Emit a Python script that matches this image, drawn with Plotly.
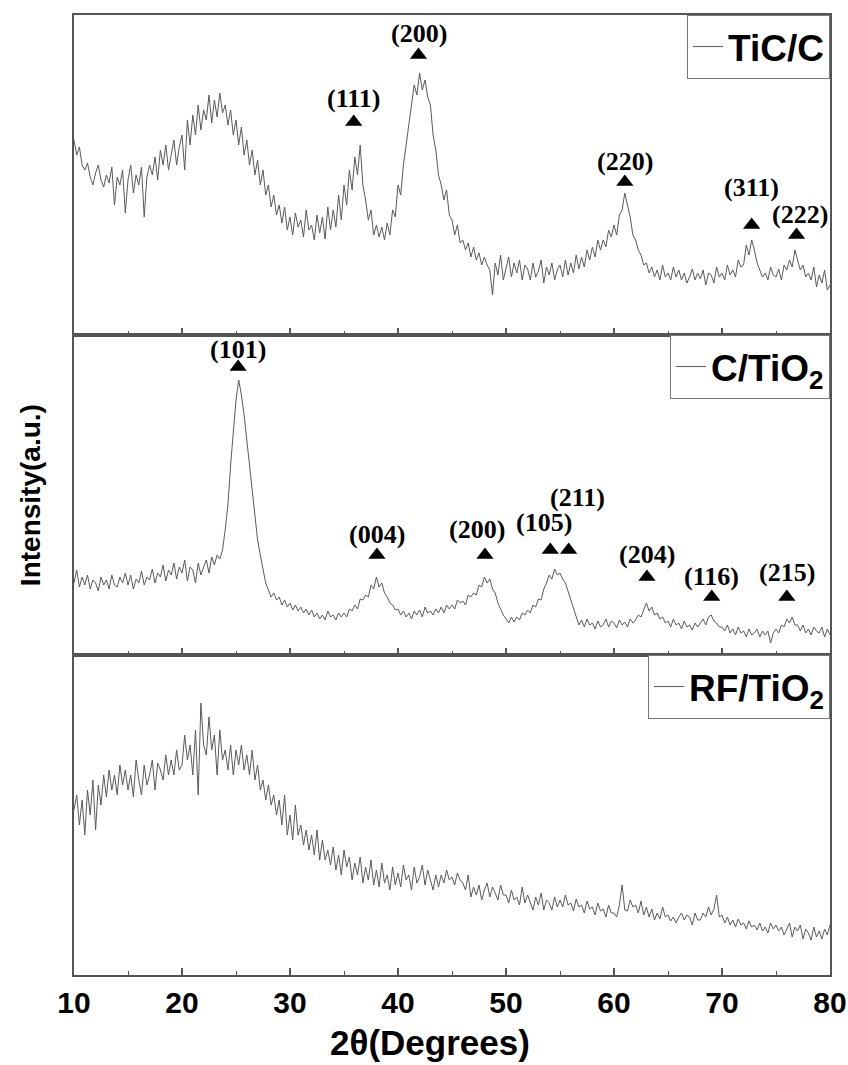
import plotly.graph_objects as go
from plotly.subplots import make_subplots

# 2-theta sampling grid (degrees), 0.25 deg step from 10 to 80
two_theta = [round(10 + 0.25 * i, 2) for i in range(281)]

# Intensities (a.u.)
tic_c = [
    195, 180, 188, 170,  165, 172, 158, 150,  162, 170, 155, 148,  160, 152, 168, 130,
    158, 150, 165, 122,  155, 170, 142, 160,  150, 168, 118, 158,  170, 160, 178, 155,
    185, 170, 190, 165,  180, 195, 170, 188,  200, 165, 215, 190,  220, 200, 230, 205,
    225, 215, 240, 212,  235, 218, 242, 222,  230, 210, 225, 200,  215, 190, 208, 180,
    195, 170, 185, 160,  175, 150, 165, 140,  150, 128, 140, 120,  130, 112, 128, 105,
    118, 100, 122, 108,  115, 98, 125, 105,  110, 95, 120, 102,  118, 96, 128, 105,
    125, 108, 140, 115,  150, 130, 165, 145,  178, 160, 190, 150,  135, 115, 125, 100,
    110, 98, 108, 95,  112, 100, 125, 118,  150, 140, 170, 190,  210, 225, 250, 240,
    262, 245, 255, 238,  230, 200, 185, 160,  150, 135, 145, 120,  115, 100, 110, 92,
    95, 85, 92, 78,  88, 75, 82, 70,  78, 70, 65, 40,  72, 60, 80, 55,
    68, 78, 58, 72,  62, 75, 55, 70,  66, 55, 72, 58,  64, 75, 52, 68,
    60, 72, 55, 65,  70, 58, 75, 60,  72, 62, 80, 66,  78, 68, 85, 75,
    88, 78, 95, 85,  95, 88, 105, 98,  110, 100, 120, 125,  142, 130, 118, 100,
    95, 85, 80, 70,  72, 62, 68, 58,  65, 55, 70, 58,  62, 55, 68, 58,
    65, 55, 62, 52,  58, 66, 55, 62,  56, 65, 50, 62,  60, 52, 68, 58,
    62, 55, 70, 60,  65, 58, 75, 68,  70, 90, 80, 95,  85, 72, 65, 58,
    62, 55, 68, 60,  58, 66, 55, 70,  65, 75, 68, 85,  75, 65, 70, 58,
    62, 55, 68, 48,  60, 52, 65, 45,  50,
]

c_tio2 = [
    72, 85, 68, 78,  70, 80, 66, 75,  72, 64, 78, 70,  75, 66, 80, 70,
    68, 78, 72, 82,  70, 80, 66, 76,  72, 84, 70, 78,  75, 86, 72, 82,
    78, 90, 74, 85,  80, 92, 76, 88,  82, 95, 74, 88,  85, 72, 92, 80,
    88, 95, 82, 98,  90, 100, 96, 105,  125, 150, 190, 225,  255, 275, 260, 240,
    215, 195, 165, 140,  115, 100, 85, 72,  65, 58, 62, 55,  58, 50, 55, 48,
    52, 45, 50, 44,  48, 42, 46, 40,  45, 38, 42, 36,  40, 35, 44, 38,
    40, 35, 42, 38,  42, 38, 46, 44,  50, 46, 56, 55,  60, 58, 70, 66,
    78, 68, 72, 62,  58, 52, 50, 45,  46, 40, 44, 38,  42, 36, 44, 40,
    45, 38, 48, 42,  44, 40, 46, 42,  48, 42, 50, 46,  50, 46, 55, 52,
    54, 50, 60, 58,  62, 60, 70, 68,  78, 72, 76, 66,  62, 52, 46, 40,
    36, 32, 38, 33,  38, 35, 42, 40,  45, 42, 50, 48,  56, 55, 66, 72,
    80, 76, 86, 80,  82, 76, 72, 64,  55, 46, 38, 30,  35, 28, 36, 30,
    32, 26, 34, 28,  30, 36, 28, 34,  32, 27, 35, 30,  33, 28, 36, 32,
    35, 40, 38, 45,  52, 44, 48, 40,  42, 36, 38, 32,  34, 28, 36, 30,
    32, 26, 34, 28,  30, 25, 32, 28,  32, 36, 30, 38,  40, 34, 32, 28,
    28, 24, 30, 22,  26, 20, 28, 22,  24, 18, 26, 20,  22, 26, 18, 24,
    20, 24, 12, 22,  26, 22, 30, 28,  36, 32, 38, 30,  30, 24, 30, 22,
    26, 20, 28, 24,  22, 28, 18, 26,  20,
]

rf_tio2 = [
    165, 180, 150, 175,  140, 185, 160, 195,  145, 190, 170, 200,  178, 205, 185, 200,
    180, 210, 190, 205,  185, 200, 178, 215,  195, 180, 210, 190,  200, 215, 185, 212,
    205, 195, 220, 200,  215, 200, 225, 205,  210, 240, 215, 230,  200, 245, 180, 272,
    230, 220, 258, 225,  240, 200, 245, 215,  225, 205, 230, 200,  225, 210, 230, 205,
    220, 200, 225, 195,  210, 185, 195, 175,  190, 170, 180, 160,  175, 150, 180, 140,
    160, 135, 170, 140,  150, 130, 145, 125,  140, 120, 145, 115,  135, 115, 125, 110,
    128, 105, 120, 100,  125, 108, 118, 95,  112, 100, 118, 92,  108, 95, 115, 90,
    105, 88, 112, 92,  100, 85, 108, 90,  102, 88, 110, 95,  100, 85, 108, 92,
    98, 110, 90, 105,  95, 85, 100, 88,  100, 92, 105, 95,  98, 90, 102, 95,
    92, 85, 100, 78,  88, 80, 90, 75,  85, 92, 78, 88,  82, 75, 90, 80,
    80, 72, 85, 75,  78, 70, 88, 72,  80, 72, 65, 78,  70, 82, 65, 75,
    72, 65, 78, 68,  75, 68, 80, 70,  72, 64, 76, 68,  70, 62, 74, 66,
    68, 60, 72, 64,  66, 58, 70, 62,  62, 58, 70, 90,  65, 64, 75, 68,
    70, 62, 74, 60,  68, 58, 66, 55,  62, 56, 68, 58,  60, 54, 58, 52,
    58, 62, 55, 60,  58, 50, 62, 55,  55, 62, 58, 68,  60, 66, 80, 58,
    60, 52, 58, 50,  55, 48, 56, 50,  52, 46, 54, 48,  50, 45, 52, 44,
    48, 42, 52, 46,  50, 44, 48, 40,  46, 52, 38, 48,  44, 50, 36, 46,
    42, 35, 48, 38,  44, 36, 46, 40,  50,
]

series_names = ["TiC/C", "C/TiO<sub>2</sub>", "RF/TiO<sub>2</sub>"]

# Reflection markers (hkl) per pattern
tic_peak_pos = [35.9, 41.9, 61.0, 72.75, 76.9]
tic_peak_int = [213, 280, 153, 110, 100]
tic_peak_hkl = ["(111)", "(200)", "(220)", "(311)", "(222)"]

ctio2_peak_pos = [25.2, 38.05, 48.05, 54.1, 55.8, 63.05, 69.05, 76.0]
ctio2_peak_int = [288, 100, 100, 105, 105, 78, 58, 58]
ctio2_peak_hkl = ["(101)", "(004)", "(200)", "(105)", "(211)", "(204)", "(116)", "(215)"]

x_ticks = [10, 20, 30, 40, 50, 60, 70, 80]

# label offsets (px) relative to each triangle -- styling only
tic_label_shift = [(0, 24), (0, 22), (0, 21), (0, 38), (3, 21)]
ctio2_label_shift = [(0, 18), (0, 21), (-8, 26), (-6, 28), (9, 53), (0, 23), (0, 21), (0, 25)]

LINE = "#5a5a5a"
FRAME = "#555555"
SANS = "Liberation Sans, Arial, sans-serif"
SERIF = "Liberation Serif, Times New Roman, serif"

fig = make_subplots(rows=3, cols=1, vertical_spacing=0)

legends = ["legend", "legend2", "legend3"]
for i, (vals, name) in enumerate(zip([tic_c, c_tio2, rf_tio2], series_names)):
    fig.add_trace(go.Scatter(
        x=two_theta, y=vals, mode="lines", name=name,
        line=dict(color=LINE, width=1), legend=legends[i],
    ), row=i + 1, col=1)

for row, px, py in [(1, tic_peak_pos, tic_peak_int), (2, ctio2_peak_pos, ctio2_peak_int)]:
    fig.add_trace(go.Scatter(
        x=px, y=py, mode="markers", showlegend=False, hoverinfo="skip",
        marker=dict(symbol="triangle-up", size=15, color="black"),
    ), row=row, col=1)

for row, px, py, labels, shifts in [
    (1, tic_peak_pos, tic_peak_int, tic_peak_hkl, tic_label_shift),
    (2, ctio2_peak_pos, ctio2_peak_int, ctio2_peak_hkl, ctio2_label_shift),
]:
    for xv, yv, lab, (dx, dy) in zip(px, py, labels, shifts):
        fig.add_annotation(
            x=xv, y=yv, text=lab, showarrow=False, xshift=dx, yshift=dy,
            xanchor="center", yanchor="middle",
            font=dict(family=SERIF, size=26, color="black", weight="bold"),
            row=row, col=1,
        )

for r in (1, 2, 3):
    fig.update_xaxes(
        range=[10, 80], tickvals=x_ticks, ticks="inside", ticklen=7, tickwidth=1.5,
        tickcolor=FRAME, showline=True, linecolor=FRAME, linewidth=1.5, mirror=True,
        showgrid=False, zeroline=False, showticklabels=(r == 3), automargin=False,
        minor=dict(dtick=5, tick0=10, ticks="inside", ticklen=4, tickwidth=1.2, tickcolor=FRAME, showgrid=False),
        tickfont=dict(family=SANS, size=30, color="black", weight="bold"),
        row=r, col=1,
    )
    fig.update_yaxes(
        range=[0, 320], showticklabels=False, ticks="", showline=True, linecolor=FRAME,
        linewidth=1.5, mirror=True, showgrid=False, zeroline=False, automargin=False,
        row=r, col=1,
    )

leg_common = dict(
    x=1, xanchor="right", yanchor="top", bgcolor="white", bordercolor="#777777",
    borderwidth=1, font=dict(family=SANS, size=37, color="black", weight="bold"),
    itemwidth=30, tracegroupgap=0,
)

fig.update_layout(
    width=848, height=1065,
    margin=dict(l=74, r=18, t=15, b=90, autoexpand=False),
    paper_bgcolor="white", plot_bgcolor="white",
    showlegend=True,
    legend=dict(y=1, **leg_common),
    legend2=dict(y=2 / 3, **leg_common),
    legend3=dict(y=1 / 3, **leg_common),
)

fig.add_annotation(
    text="Intensity(a.u.)", xref="paper", yref="paper", x=-0.058, y=0.5,
    textangle=-90, showarrow=False, xanchor="center", yanchor="middle",
    font=dict(family=SANS, size=28, color="black", weight="bold"),
)
fig.add_annotation(
    text="2θ(Degrees)", xref="paper", yref="paper", x=0.471, y=-0.0705,
    showarrow=False, xanchor="center", yanchor="middle",
    font=dict(family=SANS, size=35, color="black", weight="bold"),
)

fig.write_html("out.html")
